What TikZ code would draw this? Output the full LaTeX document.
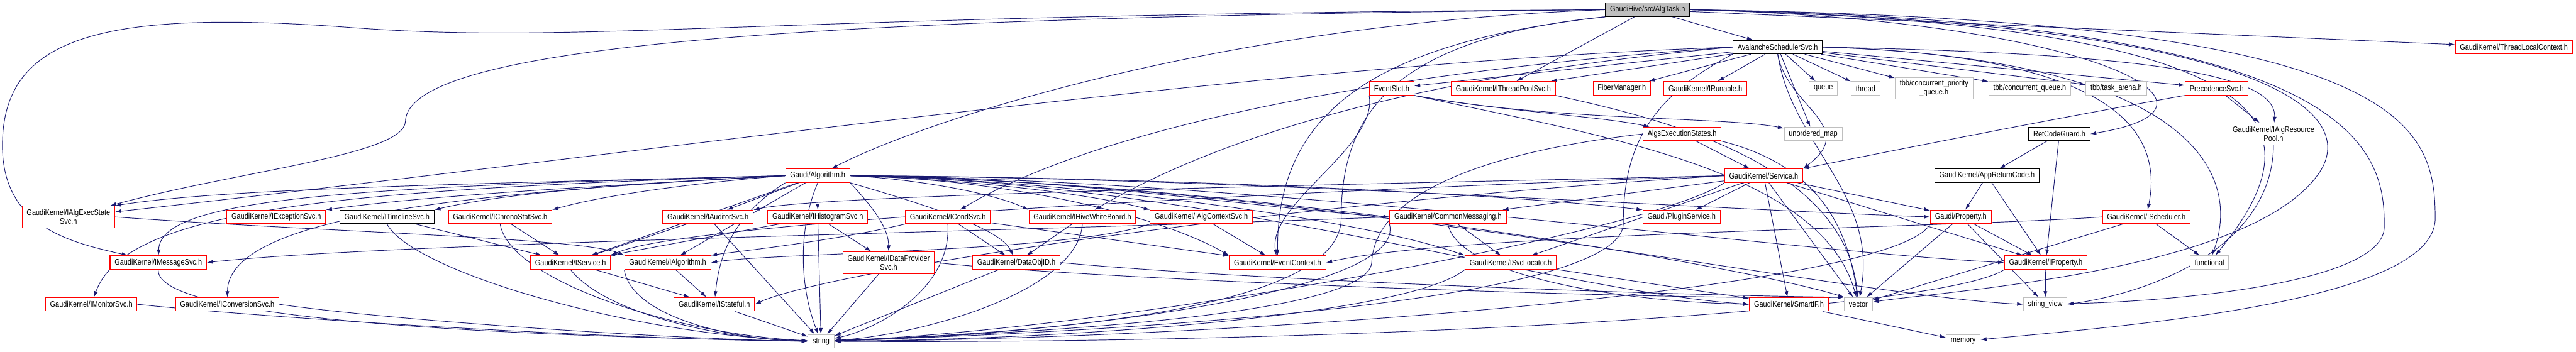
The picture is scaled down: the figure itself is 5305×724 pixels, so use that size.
\documentclass[tikz,border=0pt]{standalone}
\usepackage{fontspec}
\setmainfont{Liberation Sans}[FakeStretch=0.85]
\usepackage{tikz}
\usetikzlibrary{arrows.meta, backgrounds}
\usepackage{xcolor}
\definecolor{depBlue} {HTML}{191970}
\definecolor{hdrRed}  {HTML}{FF0000}
\definecolor{sysGray} {HTML}{BFBFBF}
\tikzset{
  box/.style    = {rectangle, fill=white, line width=0.8pt, align=center,
                   inner xsep=5.4pt, inner ysep=0pt, minimum height=0.56cm,
                   font=\fontsize{9.5pt}{10.5pt}\selectfont},
  hdr/.style    = {box, draw=hdrRed},
  plain/.style  = {box, draw=black},
  sysinc/.style = {box, draw=sysGray},
  focus/.style  = {box, draw=black, fill=sysGray},
  twoline/.style= {minimum height=0.9cm},
  dep/.style    = {draw=depBlue, line width=0.7pt,
                   -{Latex[length=7pt,width=4.6pt]}},
}

\begin{document}
\begin{tikzpicture}[x=0.02cm, y=-0.02cm]
  \useasboundingbox (0,0) rectangle (5305,724);

  % ---- top: the file itself and the scheduler ----
  \node[focus] (algtask)     at (3393,20) {GaudiHive/src/AlgTask.h};
  \node[plain] (avalanche)   at (3661,97) {AvalancheSchedulerSvc.h};
  \node[hdr]   (threadlocal) at (5177,97) {GaudiKernel/ThreadLocalContext.h};

  % ---- row 182 ----
  \node[hdr]    (eventslot)   at (2866,182) {EventSlot.h};
  \node[hdr]    (ithreadpool) at (3096,182) {GaudiKernel/IThreadPoolSvc.h};
  \node[hdr]    (fiber)       at (3340,182) {FiberManager.h};
  \node[hdr]    (irunable)    at (3512,182) {GaudiKernel/IRunable.h};
  \node[sysinc] (queue)       at (3755,182) {queue};
  \node[sysinc] (thread)      at (3842,182) {thread};
  \node[sysinc, twoline] (tbbprio) at (3983,182) {tbb/concurrent\_priority\\\_queue.h};
  \node[sysinc] (tbbqueue)    at (4180,182) {tbb/concurrent\_queue.h};
  \node[sysinc] (tbbarena)    at (4358,182) {tbb/task\_arena.h};
  \node[hdr]    (precedence)  at (4565,182) {PrecedenceSvc.h};

  % ---- row 276 ----
  \node[hdr]    (algsexec)     at (3464,276) {AlgsExecutionStates.h};
  \node[sysinc] (unordered)    at (3734,276) {unordered\_map};
  \node[plain]  (retcode)      at (4241,276) {RetCodeGuard.h};
  \node[hdr, twoline] (resourcepool) at (4682,276) {GaudiKernel/IAlgResource\\Pool.h};

  % ---- row 362 ----
  \node[hdr]   (algorithm) at (1684,362) {Gaudi/Algorithm.h};
  \node[hdr]   (service)   at (3632,362) {GaudiKernel/Service.h};
  \node[plain] (appreturn) at (4092,362) {GaudiKernel/AppReturnCode.h};

  % ---- row 447 ----
  \node[hdr, twoline] (algexecstate) at (141,447) {GaudiKernel/IAlgExecState\\Svc.h};
  \node[hdr]   (iexception)  at (569,447)  {GaudiKernel/IExceptionSvc.h};
  \node[plain] (itimeline)   at (797,447)  {GaudiKernel/ITimelineSvc.h};
  \node[hdr]   (ichrono)     at (1030,447) {GaudiKernel/IChronoStatSvc.h};
  \node[hdr]   (iauditor)    at (1458,447) {GaudiKernel/IAuditorSvc.h};
  \node[hdr]   (ihistogram)  at (1684,447) {GaudiKernel/IHistogramSvc.h};
  \node[hdr]   (icond)       at (1952,447) {GaudiKernel/ICondSvc.h};
  \node[hdr]   (ihivewb)     at (2229,447) {GaudiKernel/IHiveWhiteBoard.h};
  \node[hdr]   (ialgcontext) at (2474,447) {GaudiKernel/IAlgContextSvc.h};
  \node[hdr]   (commonmsg)   at (2982,447) {GaudiKernel/CommonMessaging.h};
  \node[hdr]   (pluginsvc)   at (3463,447) {Gaudi/PluginService.h};
  \node[hdr]   (property)    at (4038,447) {Gaudi/Property.h};
  \node[hdr]   (ischeduler)  at (4420,447) {GaudiKernel/IScheduler.h};

  % ---- row 541 ----
  \node[hdr]    (imessage)     at (326,541)  {GaudiKernel/IMessageSvc.h};
  \node[hdr]    (iservice)     at (1175,541) {GaudiKernel/IService.h};
  \node[hdr]    (ialgorithm)   at (1375,541) {GaudiKernel/IAlgorithm.h};
  \node[hdr, twoline] (idataprovider) at (1830,541) {GaudiKernel/IDataProvider\\Svc.h};
  \node[hdr]    (dataobjid)    at (2093,541) {GaudiKernel/DataObjID.h};
  \node[hdr]    (eventcontext) at (2631,541) {GaudiKernel/EventContext.h};
  \node[hdr]    (isvclocator)  at (3111,541) {GaudiKernel/ISvcLocator.h};
  \node[hdr]    (iproperty)    at (4213,541) {GaudiKernel/IProperty.h};
  \node[sysinc] (functional)   at (4550,541) {functional};

  % ---- row 627 ----
  \node[hdr]    (imonitor)    at (188,627)  {GaudiKernel/IMonitorSvc.h};
  \node[hdr]    (iconversion) at (468,627)  {GaudiKernel/IConversionSvc.h};
  \node[hdr]    (istateful)   at (1471,627) {GaudiKernel/IStateful.h};
  \node[hdr]    (smartif)     at (3684,627) {GaudiKernel/SmartIF.h};
  \node[sysinc] (vector)      at (3827,627) {vector};
  \node[sysinc] (stringview)  at (4212,627) {string\_view};

  % ---- bottom ----
  \node[sysinc] (string) at (1691,703) {string};
  \node[sysinc] (memory) at (4043,703) {memory};

  \begin{pgfonlayer}{background}
  % ---- AlgTask.h ----
  \draw[dep] (algtask) -- (avalanche);
  \draw[dep] (algtask) -- (ithreadpool);
  \draw[dep] (algtask) -- (threadlocal);
  \draw[dep] (algtask.west) .. controls (2500,50) and (1900,250) .. (algorithm);
  \draw[dep] (algtask.west) .. controls (1800,35) and (840,80) .. (835,250)
             .. controls (832,320) and (500,350) .. (algexecstate);
  \draw[dep] (algtask.west) .. controls (1500,30) and (1200,95) .. (700,55)
             .. controls (200,20) and (5,80) .. (5,300)
             .. controls (5,470) and (150,500) .. (imessage);
  \draw[dep] (algtask.east) .. controls (4300,40) and (4650,220) .. (retcode.east);
  \draw[dep] (algtask.east) .. controls (4700,50) and (4790,250) .. (functional);
  \draw[dep] (algtask.east) .. controls (4950,40) and (5015,250) .. (5015,450)
             .. controls (5015,620) and (4400,670) .. (memory);
  \draw[dep] (algtask.east) .. controls (4850,40) and (4913,300) .. (4910,470)
             .. controls (4905,580) and (4500,620) .. (stringview);
  \draw[dep] (algtask.east) .. controls (4750,50) and (4840,250) .. (4780,350)
             .. controls (4650,560) and (4000,600) .. (vector);
  \draw[dep] (algtask.south west) .. controls (2800,90) and (2630,250) .. (eventcontext);
  \draw[dep] (algtask.south west) .. controls (2850,80) and (2762,250) .. (2762,450)
             .. controls (2762,660) and (2000,690) .. (string);

  % ---- AvalancheSchedulerSvc.h ----
  \foreach \t in {eventslot, ithreadpool, fiber, irunable, queue, thread,
                  tbbprio, tbbqueue, tbbarena, precedence, unordered}
    \draw[dep] (avalanche) -- (\t);
  \draw[dep] (avalanche.south) .. controls (3680,220) and (3830,260) .. (service.north east);
  \draw[dep] (avalanche.south) .. controls (3690,300) and (3870,400) .. (vector);
  \draw[dep] (avalanche.south west) .. controls (3400,200) and (3343,300) .. (3343,460)
             .. controls (3343,640) and (2100,690) .. (string);
  \draw[dep] (avalanche.west) .. controls (2600,130) and (1300,320) .. (algexecstate);
  \draw[dep] (avalanche.west) .. controls (2800,150) and (2250,270) .. (icond);
  \draw[dep] (avalanche.west) .. controls (3100,140) and (2600,230) .. (ihivewb);
  \draw[dep] (avalanche.east) .. controls (4400,110) and (4690,150) .. (resourcepool);
  \draw[dep] (avalanche.east) .. controls (4200,110) and (4470,200) .. (ischeduler);
  \draw[dep] (avalanche.east) .. controls (4500,120) and (4620,350) .. (functional);

  % ---- EventSlot.h / AlgsExecutionStates.h / IThreadPoolSvc.h ----
  \draw[dep] (eventslot.south east) .. controls (3100,230) and (3300,240) .. (algsexec);
  \draw[dep] (eventslot.south east) .. controls (3200,250) and (3550,240) .. (unordered);
  \draw[dep] (eventslot.south west) .. controls (2840,300) and (2610,420) .. (eventcontext);
  \draw[dep] (eventslot.south east) .. controls (3300,280) and (3750,350) .. (vector);
  \draw[dep] (ithreadpool.south east) .. controls (3400,240) and (3800,330) .. (vector);
  \draw[dep] (algsexec) -- (service);
  \draw[dep] (algsexec.west) .. controls (3000,320) and (2830,420) .. (2825,540)
             .. controls (2820,660) and (2000,690) .. (string);
  \draw[dep] (algsexec.south east) .. controls (3700,330) and (3800,420) .. (vector);

  % ---- PrecedenceSvc.h / RetCodeGuard.h / AppReturnCode.h ----
  \draw[dep] (precedence.south west) .. controls (4200,250) and (3900,310) .. (service.north east);
  \draw[dep] (precedence) -- (resourcepool);
  \draw[dep] (retcode) -- (appreturn);
  \draw[dep] (retcode) -- (iproperty);
  \draw[dep] (appreturn) -- (property);
  \draw[dep] (appreturn) -- (iproperty);

  % ---- Gaudi/Algorithm.h ----
  \foreach \t in {iauditor, ihistogram, iservice, ialgorithm}
    \draw[dep] (algorithm) -- (\t);
  \draw[dep] (algorithm.west) .. controls (1300,380) and (900,400) .. (iexception.north east);
  \draw[dep] (algorithm.west) .. controls (1350,375) and (1050,395) .. (itimeline.north east);
  \draw[dep] (algorithm.west) .. controls (1450,375) and (1250,400) .. (ichrono.north east);
  \draw[dep] (algorithm.west) .. controls (900,380) and (450,390) .. (algexecstate.north east);
  \draw[dep] (algorithm.west) .. controls (700,385) and (330,410) .. (imessage);
  \draw[dep] (algorithm.west) .. controls (700,390) and (260,430) .. (imonitor);
  \draw[dep] (algorithm.west) .. controls (1000,395) and (470,440) .. (iconversion);
  \draw[dep] (algorithm.south west) .. controls (1500,450) and (1480,540) .. (istateful);
  \draw[dep] (algorithm.south east) .. controls (1800,430) and (1830,470) .. (idataprovider);
  \draw[dep] (algorithm.south east) .. controls (1900,420) and (2060,470) .. (dataobjid);
  \draw[dep] (algorithm.south) .. controls (1640,480) and (1650,600) .. (string);
  \draw[dep] (algorithm.east) .. controls (1900,370) and (2050,400) .. (ihivewb.north west);
  \draw[dep] (algorithm.east) .. controls (2000,370) and (2250,400) .. (ialgcontext.north west);
  \draw[dep] (algorithm.east) .. controls (2100,370) and (2400,450) .. (eventcontext.north west);
  \draw[dep] (algorithm.east) .. controls (2200,365) and (2600,430) .. (commonmsg.west);
  \draw[dep] (algorithm.east) .. controls (2400,365) and (3100,400) .. (pluginsvc.north west);
  \draw[dep] (algorithm.east) .. controls (2500,365) and (3500,430) .. (property.west);
  \draw[dep] (algorithm.east) .. controls (2600,370) and (3700,520) .. (iproperty.west);
  \draw[dep] (algorithm.east) .. controls (2200,370) and (2800,450) .. (isvclocator.north west);
  \draw[dep] (algorithm.east) .. controls (2500,375) and (3200,600) .. (smartif.west);
  \draw[dep] (algorithm.east) .. controls (2600,375) and (3600,550) .. (vector.north west);
  \draw[dep] (algorithm.east) .. controls (2700,375) and (3800,610) .. (stringview.west);

  % ---- GaudiKernel/Service.h ----
  \foreach \t in {pluginsvc, commonmsg, property, isvclocator, smartif, vector, iproperty}
    \draw[dep] (service) -- (\t);
  \draw[dep] (service.west) .. controls (2800,380) and (1700,400) .. (iauditor.north east);
  \draw[dep] (service.west) .. controls (2500,400) and (1400,460) .. (iservice.north east);
  \draw[dep] (service.west) .. controls (2600,420) and (1700,560) .. (istateful.east);
  \draw[dep] (service.south west) .. controls (3400,480) and (2300,680) .. (string);

  % ---- CommonMessaging.h / ISvcLocator.h ----
  \draw[dep] (commonmsg.west) .. controls (2000,480) and (800,500) .. (imessage.east);
  \draw[dep] (commonmsg) -- (isvclocator);
  \draw[dep] (commonmsg.south) .. controls (3000,560) and (3300,620) .. (smartif.west);
  \draw[dep] (commonmsg.south west) .. controls (2900,600) and (2200,690) .. (string);
  \draw[dep] (isvclocator) -- (smartif);
  \draw[dep] (isvclocator.south west) .. controls (2900,650) and (2200,700) .. (string);

  % ---- interfaces in the middle row ----
  \draw[dep] (icond) -- (dataobjid);
  \draw[dep] (icond) -- (eventcontext);
  \draw[dep] (icond.south west) .. controls (1700,500) and (1500,520) .. (ialgorithm.north east);
  \draw[dep] (icond.south) .. controls (1960,600) and (1800,680) .. (string);
  \draw[dep] (ihivewb) -- (dataobjid);
  \draw[dep] (ihivewb.south) .. controls (2220,600) and (1900,690) .. (string);
  \draw[dep] (ialgcontext.south west) .. controls (2200,520) and (1600,520) .. (ialgorithm.east);
  \draw[dep] (ialgcontext) -- (eventcontext);
  \draw[dep] (iauditor) -- (iservice);
  \draw[dep] (iauditor) -- (string);
  \draw[dep] (ihistogram) -- (iservice);
  \draw[dep] (ihistogram) -- (string);
  \draw[dep] (ihistogram) -- (idataprovider);
  \draw[dep] (itimeline) -- (iservice);
  \draw[dep] (itimeline.south) .. controls (850,560) and (1300,690) .. (string);
  \draw[dep] (ichrono) -- (iservice);
  \draw[dep] (ichrono.south) .. controls (1050,580) and (1400,690) .. (string);
  \draw[dep] (algexecstate.east) .. controls (700,480) and (1200,490) .. (ialgorithm.north west);

  % ---- lower rows ----
  \draw[dep] (imessage.south) .. controls (320,650) and (900,690) .. (string.west);
  \draw[dep] (imonitor.east) .. controls (600,660) and (1300,700) .. (string.west);
  \draw[dep] (iconversion.east) .. controls (800,660) and (1400,700) .. (string.west);
  \draw[dep] (iservice) -- (istateful);
  \draw[dep] (iservice.south) .. controls (1250,650) and (1500,700) .. (string.west);
  \draw[dep] (ialgorithm) -- (istateful);
  \draw[dep] (ialgorithm.south west) .. controls (1300,650) and (1500,700) .. (string.west);
  \draw[dep] (idataprovider) -- (string);
  \draw[dep] (idataprovider.east) .. controls (2300,580) and (3500,620) .. (vector.north west);
  \draw[dep] (dataobjid) -- (string);
  \draw[dep] (dataobjid.east) .. controls (2600,580) and (3500,610) .. (vector.north west);
  \draw[dep] (istateful) -- (string);
  \draw[dep] (property) -- (iproperty);
  \draw[dep] (property) -- (stringview);
  \draw[dep] (property) -- (vector);
  \draw[dep] (property.south west) .. controls (3900,600) and (2500,700) .. (string);
  \draw[dep] (iproperty) -- (stringview);
  \draw[dep] (iproperty.south west) .. controls (4000,640) and (2800,710) .. (string);
  \draw[dep] (ischeduler.west) .. controls (4000,470) and (3000,480) .. (eventcontext.east);
  \draw[dep] (ischeduler) -- (vector);
  \draw[dep] (ischeduler) -- (functional);
  \draw[dep] (smartif) -- (memory);
  \draw[dep] (resourcepool.south) .. controls (4680,500) and (4450,600) .. (stringview.east);
  \end{pgfonlayer}

\end{tikzpicture}
\end{document}
